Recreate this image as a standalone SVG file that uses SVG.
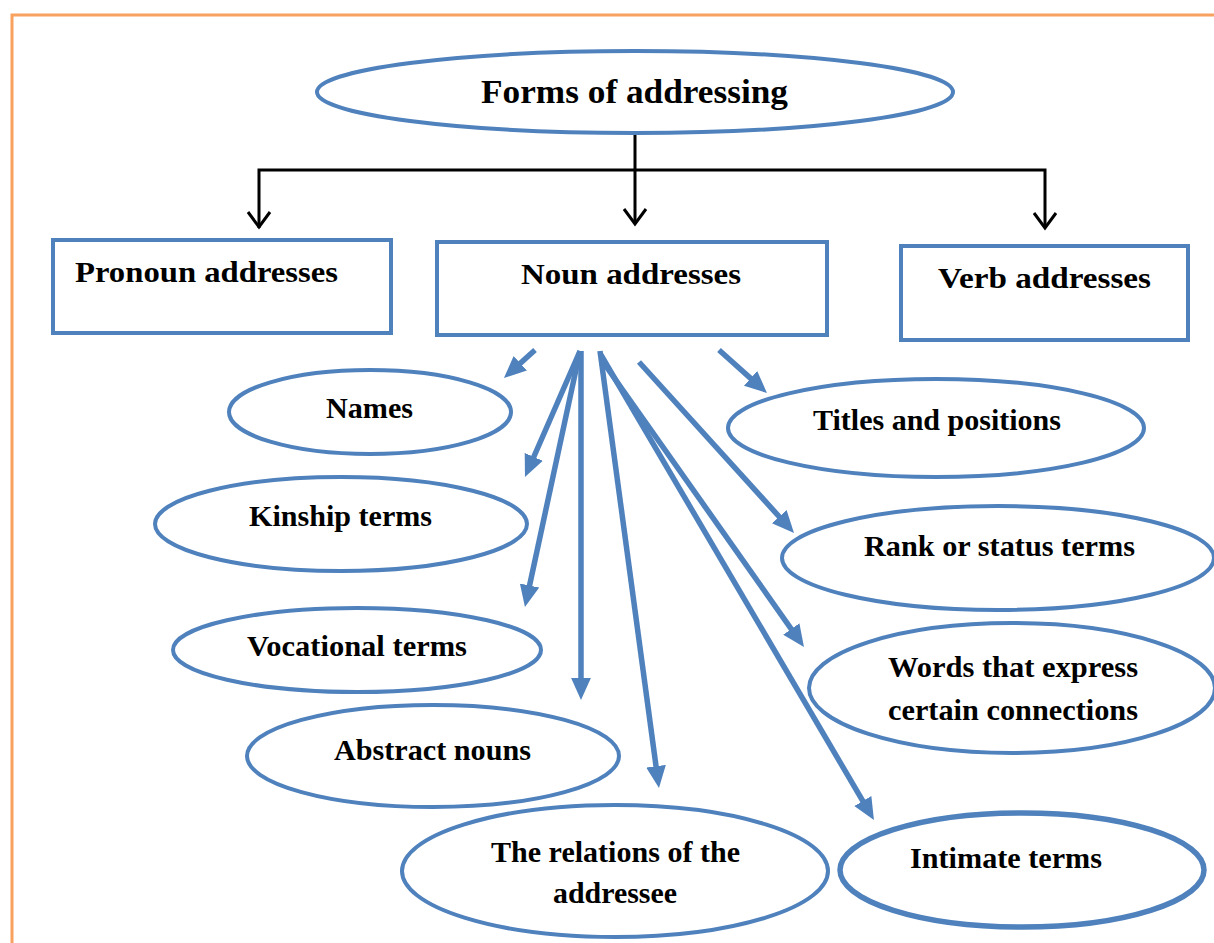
<svg xmlns="http://www.w3.org/2000/svg" width="1214" height="943" viewBox="0 0 1214 943">
<style>
.bg{fill:#ffffff}
.frame{fill:none;stroke:#F9A15E;stroke-width:3}
.node{fill:#ffffff;stroke:#4F81BD;stroke-width:4}
.thick{stroke-width:5.5}
.t{font-family:"Liberation Serif","Times New Roman",serif;font-weight:bold;font-size:29px;fill:#000}
.title{font-size:33px}
.blk{fill:none;stroke:#000;stroke-width:3}
.blu{fill:none;stroke:#4F81BD;stroke-width:5.5}
</style>
<defs>
<marker id="bh" viewBox="0 0 10 10" refX="6" refY="5" markerWidth="4" markerHeight="4" orient="auto">
<path d="M0,0.5 L10,5 L0,9.5 z" fill="#4F81BD"/>
</marker>
</defs>
<rect class="bg" x="0" y="0" width="1214" height="943"/>
<rect class="frame" x="12" y="15" width="1214" height="940"/>

<g id="connectors">
<path class="blk" d="M635,133 V224 M259,228 V170 H1045 V228"/>
<path class="blk" d="M248,212 L259,227 L270,212 M624,209 L635,224 L646,209 M1034,213 L1045,228 L1056,213"/>
<line class="blu" x1="535" y1="350" x2="510.5" y2="372.1" marker-end="url(#bh)"/>
<line class="blu" x1="580" y1="351" x2="528.5" y2="469" marker-end="url(#bh)"/>
<line class="blu" x1="580" y1="351" x2="526.8" y2="598.4" marker-end="url(#bh)"/>
<line class="blu" x1="581" y1="351" x2="581" y2="691.2" marker-end="url(#bh)"/>
<line class="blu" x1="600" y1="351" x2="657.8" y2="779.3" marker-end="url(#bh)"/>
<line class="blu" x1="601" y1="355" x2="869.5" y2="812.4" marker-end="url(#bh)"/>
<line class="blu" x1="603" y1="362" x2="798.9" y2="639.8" marker-end="url(#bh)"/>
<line class="blu" x1="639" y1="362" x2="788.1" y2="526.5" marker-end="url(#bh)"/>
<line class="blu" x1="719" y1="350" x2="760.4" y2="387.1" marker-end="url(#bh)"/>
</g>

<g id="forms">
<ellipse class="node" cx="635" cy="92" rx="318" ry="41"/>
<text class="t title" x="481" y="103" textLength="307" lengthAdjust="spacingAndGlyphs">Forms of addressing</text>
</g>
<g id="pronoun">
<rect class="node" x="53" y="240" width="338" height="93"/>
<text class="t" x="75" y="282" textLength="263" lengthAdjust="spacingAndGlyphs">Pronoun addresses</text>
</g>
<g id="noun">
<rect class="node" x="437" y="242" width="390" height="93"/>
<text class="t" x="521" y="284" textLength="220" lengthAdjust="spacingAndGlyphs">Noun addresses</text>
</g>
<g id="verb">
<rect class="node" x="901" y="246" width="287" height="94"/>
<text class="t" x="938" y="288" textLength="213" lengthAdjust="spacingAndGlyphs">Verb addresses</text>
</g>
<g id="names">
<ellipse class="node" cx="370" cy="412" rx="141" ry="42"/>
<text class="t" x="326" y="418" textLength="87" lengthAdjust="spacingAndGlyphs">Names</text>
</g>
<g id="kinship">
<ellipse class="node" cx="341" cy="524" rx="186" ry="47"/>
<text class="t" x="249" y="526" textLength="183" lengthAdjust="spacingAndGlyphs">Kinship terms</text>
</g>
<g id="vocational">
<ellipse class="node" cx="357" cy="650" rx="184" ry="42"/>
<text class="t" x="247" y="656" textLength="220" lengthAdjust="spacingAndGlyphs">Vocational terms</text>
</g>
<g id="abstract">
<ellipse class="node" cx="433" cy="756" rx="186" ry="51"/>
<text class="t" x="334" y="760" textLength="197" lengthAdjust="spacingAndGlyphs">Abstract nouns</text>
</g>
<g id="relations">
<ellipse class="node" cx="615" cy="871" rx="213" ry="66"/>
<text class="t" x="491" y="862" textLength="249" lengthAdjust="spacingAndGlyphs">The relations of the</text>
<text class="t" x="553" y="903" textLength="124" lengthAdjust="spacingAndGlyphs">addressee</text>
</g>
<g id="titles">
<ellipse class="node" cx="936" cy="428" rx="208" ry="49"/>
<text class="t" x="813" y="430" textLength="248" lengthAdjust="spacingAndGlyphs">Titles and positions</text>
</g>
<g id="rank">
<ellipse class="node" cx="998" cy="558" rx="216" ry="52"/>
<text class="t" x="864" y="556" textLength="271" lengthAdjust="spacingAndGlyphs">Rank or status terms</text>
</g>
<g id="words">
<ellipse class="node" cx="1012" cy="688" rx="203" ry="65"/>
<text class="t" x="888" y="677" textLength="250" lengthAdjust="spacingAndGlyphs">Words that express</text>
<text class="t" x="888" y="720" textLength="250" lengthAdjust="spacingAndGlyphs">certain connections</text>
</g>
<g id="intimate">
<ellipse class="node thick" cx="1022" cy="870" rx="182" ry="57"/>
<text class="t" x="910" y="868" textLength="192" lengthAdjust="spacingAndGlyphs">Intimate terms</text>
</g>
</svg>
